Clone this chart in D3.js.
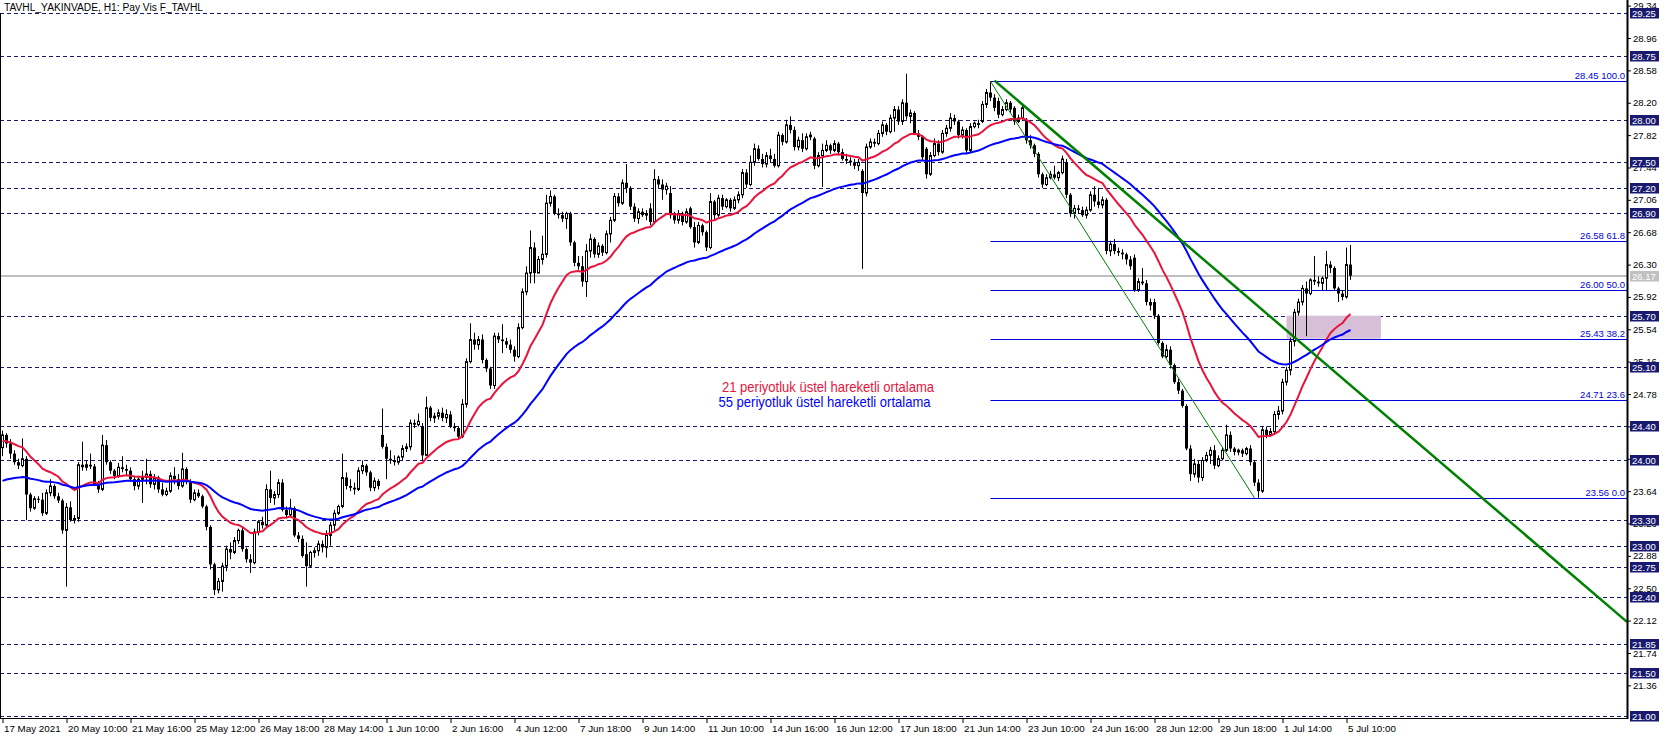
<!DOCTYPE html>
<html><head><meta charset="utf-8">
<script src="https://cdn.jsdelivr.net/npm/d3@7"></script>
<style>html,body{margin:0;padding:0;background:#fff;overflow:hidden}</style>
</head><body>
<svg id="c" width="1670" height="739"></svg>
<script>
const title = "TAVHL_YAKINVADE, H1:  Pay Vis F_TAVHL";
// hourly candles [open, high, low, close]
const ohlc = [
[24.15,24.35,24.05,24.30],[24.30,24.32,24.15,24.20],[24.20,24.25,24.02,24.08],[24.08,24.12,23.95,23.98],
[23.98,24.02,23.90,23.94],[23.94,24.26,23.92,24.02],[24.02,24.05,23.30,23.60],[23.60,23.62,23.40,23.44],
[23.44,23.58,23.42,23.55],[23.55,23.58,23.50,23.54],[23.54,23.62,23.35,23.38],[23.38,23.66,23.36,23.62],
[23.62,23.78,23.58,23.70],[23.70,23.72,23.55,23.58],[23.58,23.62,23.50,23.53],[23.53,23.55,23.14,23.18],
[23.18,23.50,22.52,23.45],[23.45,23.52,23.28,23.30],[23.30,23.36,23.26,23.32],[23.32,23.98,23.28,23.95],
[23.95,24.22,23.88,23.92],[23.92,24.00,23.88,23.95],[23.95,24.08,23.90,23.93],[23.93,23.96,23.70,23.72],
[23.72,23.76,23.62,23.66],[23.66,24.30,23.64,24.18],[24.18,24.24,23.95,23.98],[23.98,24.00,23.84,23.88],
[23.88,23.90,23.78,23.82],[23.82,23.97,23.80,23.92],[23.92,24.05,23.86,23.90],[23.90,23.95,23.83,23.88],
[23.88,23.92,23.75,23.78],[23.78,23.82,23.65,23.70],[23.70,23.82,23.66,23.78],[23.78,23.88,23.50,23.80],
[23.80,24.02,23.72,23.84],[23.84,23.88,23.68,23.72],[23.72,23.84,23.66,23.80],[23.80,23.82,23.62,23.66],
[23.66,23.74,23.58,23.60],[23.60,23.68,23.58,23.64],[23.64,23.86,23.62,23.82],[23.82,23.92,23.72,23.78],
[23.78,23.84,23.66,23.70],[23.70,24.09,23.68,23.90],[23.90,23.92,23.72,23.76],[23.76,23.78,23.50,23.54],
[23.54,23.66,23.52,23.62],[23.62,23.66,23.56,23.58],[23.58,23.60,23.44,23.46],[23.46,23.48,23.18,23.22],
[23.22,23.24,22.72,22.78],[22.78,22.80,22.42,22.48],[22.48,22.62,22.44,22.58],[22.58,22.80,22.46,22.76],
[22.76,23.00,22.70,22.96],[22.96,23.04,22.84,22.92],[22.92,23.10,22.90,23.06],[23.06,23.20,23.02,23.18],
[23.18,23.22,22.93,22.96],[22.96,22.98,22.80,22.84],[22.84,22.90,22.68,22.80],[22.80,23.20,22.78,23.16],
[23.16,23.30,23.12,23.28],[23.28,23.34,23.20,23.24],[23.24,23.72,23.22,23.66],[23.66,23.88,23.50,23.56],
[23.56,23.64,23.48,23.60],[23.60,23.78,23.56,23.74],[23.74,23.78,23.40,23.42],[23.42,23.46,23.32,23.36],
[23.36,23.55,23.34,23.44],[23.44,23.46,23.10,23.12],[23.12,23.16,23.04,23.08],[23.08,23.12,22.86,22.88],
[22.90,23.04,22.52,22.76],[22.76,22.94,22.74,22.92],[22.92,22.98,22.86,22.94],[22.94,23.06,22.88,23.02],
[23.02,23.06,22.92,22.98],[22.98,23.18,22.86,23.12],[23.12,23.28,23.00,23.24],[23.24,23.42,23.18,23.38],
[23.38,23.48,23.36,23.46],[23.46,24.08,23.44,23.80],[23.80,23.86,23.66,23.70],[23.70,23.78,23.64,23.68],
[23.68,23.74,23.60,23.66],[23.66,23.92,23.64,23.88],[23.88,24.00,23.84,23.94],[23.94,23.96,23.82,23.86],
[23.86,23.88,23.64,23.68],[23.68,23.80,23.64,23.76],[23.76,23.78,23.66,23.70],[24.30,24.61,24.14,24.16],
[24.16,24.20,23.78,24.02],[24.02,24.12,23.96,24.00],[24.00,24.06,23.94,23.98],[23.98,24.06,23.95,24.04],
[24.04,24.18,24.00,24.14],[24.14,24.20,24.10,24.16],[24.16,24.48,24.12,24.44],[24.44,24.48,24.38,24.42],
[24.42,24.55,24.40,24.46],[24.40,24.44,24.00,24.06],[24.06,24.75,24.06,24.62],[24.62,24.64,24.46,24.50],
[24.50,24.56,24.44,24.52],[24.52,24.60,24.48,24.56],[24.56,24.62,24.46,24.50],[24.50,24.60,24.44,24.54],
[24.54,24.58,24.38,24.40],[24.40,24.44,24.34,24.38],[24.38,24.40,24.26,24.28],[24.28,24.72,24.26,24.66],
[24.66,25.20,24.62,25.16],[25.16,25.61,25.14,25.42],[25.42,25.50,25.30,25.36],[25.36,25.46,25.30,25.42],
[25.42,25.48,25.14,25.18],[25.18,25.20,25.04,25.08],[25.08,25.10,24.84,24.88],[24.88,25.50,24.84,25.46],
[25.46,25.50,25.38,25.42],[25.42,25.60,25.26,25.40],[25.40,25.44,25.32,25.36],[25.36,25.42,25.26,25.30],
[25.30,25.34,25.16,25.22],[25.22,25.61,25.20,25.56],[25.56,26.02,25.54,25.98],[25.98,26.28,25.94,26.20],
[26.20,26.70,26.08,26.50],[26.50,26.56,26.08,26.20],[26.20,26.40,26.20,26.36],[26.36,26.64,26.30,26.42],
[26.42,27.12,26.38,27.02],[27.02,27.17,26.98,27.10],[27.10,27.12,26.88,26.90],[26.90,26.96,26.84,26.88],
[26.88,26.92,26.80,26.84],[26.84,26.92,26.72,26.90],[26.90,26.92,26.52,26.56],[26.56,26.58,26.28,26.32],
[26.32,26.40,26.24,26.28],[26.28,26.40,26.04,26.10],[26.10,26.54,25.92,26.46],[26.46,26.66,26.38,26.60],
[26.60,26.62,26.38,26.42],[26.42,26.56,26.38,26.52],[26.52,26.54,26.40,26.44],[26.44,26.70,26.42,26.66],
[26.66,26.86,26.56,26.82],[26.82,27.14,26.80,27.10],[27.10,27.14,26.98,27.02],[27.02,27.30,27.00,27.26],
[27.26,27.48,27.14,27.20],[27.20,27.22,26.94,26.98],[26.98,27.02,26.80,26.84],[26.84,26.96,26.78,26.92],
[26.92,26.96,26.86,26.88],[26.88,26.94,26.82,26.90],[26.96,27.02,26.76,26.80],[26.80,27.42,26.78,27.30],
[27.30,27.34,27.20,27.24],[27.24,27.30,27.06,27.18],[27.18,27.26,27.12,27.22],[27.14,27.22,26.84,26.88],
[26.88,26.92,26.78,26.82],[26.82,26.94,26.78,26.90],[26.90,26.92,26.76,26.80],[26.80,26.96,26.78,26.92],
[26.96,26.98,26.72,26.74],[26.74,26.80,26.50,26.56],[26.56,26.80,26.54,26.76],[26.76,26.78,26.64,26.68],
[26.68,26.70,26.46,26.50],[26.50,27.14,26.48,27.04],[27.04,27.06,26.82,26.88],[26.88,27.12,26.86,27.08],
[27.08,27.12,26.94,26.98],[26.98,27.08,26.96,27.06],[27.06,27.08,26.92,26.96],[26.96,27.10,26.94,27.06],
[27.06,27.16,27.02,27.12],[27.12,27.42,27.08,27.38],[27.38,27.42,27.20,27.24],[27.24,27.58,27.22,27.50],
[27.50,27.72,27.46,27.66],[27.66,27.70,27.52,27.54],[27.54,27.60,27.44,27.48],[27.48,27.62,27.44,27.58],
[27.58,27.66,27.50,27.54],[27.54,27.60,27.44,27.46],[27.46,27.86,27.44,27.82],[27.82,27.84,27.70,27.74],
[27.74,28.00,27.72,27.94],[27.94,28.04,27.84,27.88],[27.88,27.92,27.64,27.68],[27.68,27.80,27.64,27.76],
[27.76,27.84,27.62,27.66],[27.66,27.84,27.64,27.80],[27.80,27.86,27.76,27.82],[27.78,27.80,27.42,27.46],
[27.46,27.62,27.44,27.58],[27.58,27.72,27.21,27.64],[27.64,27.76,27.62,27.70],[27.70,27.72,27.60,27.64],
[27.64,27.76,27.62,27.72],[27.72,27.74,27.58,27.62],[27.62,27.66,27.52,27.54],[27.54,27.60,27.48,27.52],
[27.52,27.56,27.46,27.50],[27.50,27.54,27.42,27.46],[27.46,27.54,27.40,27.50],[27.40,27.42,26.25,27.14],
[27.14,27.72,27.10,27.68],[27.68,27.78,27.66,27.74],[27.74,27.78,27.68,27.72],[27.72,27.88,27.70,27.84],
[27.84,27.98,27.80,27.94],[27.94,27.96,27.82,27.86],[27.86,28.06,27.84,28.02],[28.02,28.16,27.86,28.12],
[28.12,28.16,27.94,27.98],[27.98,28.24,27.94,28.20],[28.20,28.54,28.00,28.04],[28.04,28.12,27.96,28.08],
[28.08,28.10,27.82,27.84],[27.84,27.88,27.76,27.80],[27.80,27.82,27.52,27.56],[27.66,27.68,27.31,27.36],
[27.36,27.62,27.34,27.58],[27.58,27.78,27.56,27.72],[27.72,27.76,27.58,27.62],[27.62,27.88,27.60,27.84],
[27.84,27.94,27.80,27.90],[27.90,28.08,27.86,28.02],[28.02,28.06,27.94,27.98],[27.98,28.00,27.78,27.82],
[27.82,27.92,27.78,27.88],[27.88,27.90,27.60,27.64],[27.64,27.96,27.62,27.92],[27.92,27.98,27.90,27.96],
[27.96,28.00,27.90,27.94],[27.98,28.22,27.96,28.18],[28.18,28.36,28.14,28.32],[28.32,28.45,28.22,28.26],
[28.26,28.30,28.10,28.14],[28.22,28.26,28.02,28.06],[28.06,28.16,28.04,28.12],[28.12,28.24,28.10,28.20],
[28.20,28.22,28.08,28.12],[28.14,28.16,27.94,27.98],[27.98,28.06,27.96,28.02],[28.02,28.18,28.00,28.14],
[28.00,28.02,27.72,27.76],[27.76,27.82,27.66,27.70],[27.70,27.72,27.56,27.60],[27.60,27.62,27.32,27.36],
[27.36,27.38,27.20,27.24],[27.24,27.36,27.22,27.32],[27.32,27.40,27.30,27.36],[27.36,27.46,27.30,27.32],
[27.32,27.40,27.28,27.38],[27.38,27.58,27.36,27.54],[27.50,27.54,27.08,27.12],[27.12,27.14,26.86,26.90],
[26.90,27.00,26.84,26.96],[26.96,27.00,26.90,26.94],[26.94,26.98,26.86,26.88],[26.88,26.98,26.84,26.94],
[26.94,27.16,26.92,27.12],[27.12,27.22,26.98,27.04],[27.04,27.20,26.96,27.00],[27.00,27.10,26.96,27.06],
[27.06,27.08,26.42,26.46],[26.46,26.58,26.40,26.54],[26.54,26.60,26.42,26.46],[26.46,26.50,26.40,26.44],
[26.44,26.48,26.36,26.42],[26.42,26.44,26.30,26.36],[26.36,26.40,26.24,26.28],[26.38,26.42,25.98,26.00],
[26.00,26.14,25.98,26.10],[26.10,26.26,26.06,26.08],[26.08,26.12,25.82,25.86],[25.86,25.90,25.76,25.82],
[25.86,25.90,25.66,25.70],[25.70,25.72,25.36,25.38],[25.38,25.40,25.20,25.22],[25.22,25.36,25.20,25.30],
[25.30,25.34,25.08,25.12],[25.12,25.14,24.90,24.92],[24.92,24.96,24.78,24.82],[24.82,24.84,24.62,24.64],
[24.64,24.66,24.12,24.14],[24.14,24.18,23.76,23.84],[23.84,24.02,23.80,23.96],[23.96,24.00,23.74,23.80],
[23.80,24.04,23.76,24.00],[24.00,24.10,23.98,24.06],[24.06,24.16,23.96,24.12],[24.12,24.18,23.90,23.94],
[23.94,24.06,23.92,24.02],[24.02,24.16,24.00,24.12],[24.12,24.42,24.10,24.30],[24.30,24.34,24.10,24.14],
[24.14,24.16,24.06,24.10],[24.10,24.14,24.06,24.12],[24.12,24.14,24.04,24.08],[24.08,24.16,24.06,24.14],
[24.14,24.18,23.94,23.98],[23.98,24.00,23.70,23.74],[23.74,23.78,23.56,23.64],[23.64,24.40,23.62,24.36],
[24.36,24.40,24.26,24.30],[24.30,24.38,24.28,24.34],[24.34,24.58,24.30,24.54],[24.54,24.64,24.48,24.58],
[24.58,24.96,24.54,24.92],[24.92,25.10,24.88,25.06],[25.06,25.44,25.00,25.40],[25.40,25.78,25.34,25.74],
[25.74,25.90,25.70,25.86],[25.86,26.06,25.82,26.02],[26.02,26.10,25.46,25.96],[25.96,26.14,25.94,26.12],
[26.12,26.40,26.06,26.10],[26.10,26.16,26.04,26.08],[26.08,26.16,26.00,26.14],[26.14,26.46,26.00,26.30],
[26.30,26.34,26.20,26.26],[26.26,26.28,26.00,26.02],[26.02,26.04,25.86,25.96],[25.96,26.00,25.88,25.92],
[25.92,26.50,25.90,26.30],[26.30,26.53,26.12,26.17]
];
const timeLabels = ["17 May 2021","20 May 10:00","21 May 16:00","25 May 12:00","26 May 18:00","28 May 14:00",
  "1 Jun 10:00","2 Jun 16:00","4 Jun 12:00","7 Jun 18:00","9 Jun 14:00","11 Jun 10:00","14 Jun 16:00",
  "16 Jun 12:00","17 Jun 18:00","21 Jun 14:00","23 Jun 10:00","24 Jun 16:00","28 Jun 12:00","29 Jun 18:00",
  "1 Jul 14:00","5 Jul 10:00"];
const timeTickBars = [0,16,32,48,64,80,96,112,128,144,160,176,192,208,224,240,256,272,288,304,320,336];
const priceTicks = [29.34,28.96,28.58,28.20,27.82,27.44,27.06,26.68,26.30,25.92,25.54,25.16,24.78,24.40,24.02,23.64,23.26,22.88,22.50,22.12,21.74,21.36];
const levels = [29.25,28.75,28.00,27.50,27.20,26.90,25.70,25.10,24.40,24.00,23.30,23.00,22.75,22.40,21.85,21.50,21.00];
const fibValues = [28.45,26.58,26.00,25.43,24.71,23.56];
const fibPercents = ["100.0","61.8","50.0","38.2","23.6","0.0"];
const fibStartBar = 247;
const lastPrice = 26.17;
const trendMain = [[248,28.46],[300,26.37]];
const trendThin = [[247,28.45],[313,23.56]];
const zoneBars = [321,344.6];
const zonePrices = [25.70,25.43];
const emaPeriods = [21,55];
const emaSeeds = [24.22,23.74];
const emaColors = ["#e8143c","#0000ff"];
const notes = ["21 periyotluk üstel hareketli ortalama","55 periyotluk üstel hareketli ortalama"];

const W = 1670, H = 739, R = 1627, B = 718;
const svg = d3.select("#c");
const x = d3.scaleLinear().domain([0, 406.125]).range([2.5, R]);
const y = d3.scaleLinear().domain([21, 29.25]).range([716, 13.3]);
const NAVY = "#191970";
const F = "'Liberation Sans', Arial, sans-serif";

// price levels (dashed)
svg.append("g").selectAll("line").data(levels).join("line")
  .attr("x1",0).attr("x2",R).attr("y1",d=>Math.round(y(d))+0.5).attr("y2",d=>Math.round(y(d))+0.5)
  .attr("stroke",NAVY).attr("stroke-width",1).attr("stroke-dasharray","4,3");
// current price line
svg.append("line").attr("x1",0).attr("x2",R).attr("y1",Math.round(y(lastPrice))).attr("y2",Math.round(y(lastPrice)))
  .attr("stroke","#c0c0c0").attr("stroke-width",2);
// zone rectangle
svg.append("rect").attr("x",x(zoneBars[0])).attr("width",x(zoneBars[1])-x(zoneBars[0]))
  .attr("y",y(zonePrices[0])).attr("height",y(zonePrices[1])-y(zonePrices[0]))
  .attr("fill","#d8bfd8");
// fib lines
const fg = svg.append("g");
fg.selectAll("line").data(fibValues).join("line")
  .attr("x1",x(fibStartBar)).attr("x2",R).attr("y1",d=>Math.round(y(d))+0.5).attr("y2",d=>Math.round(y(d))+0.5)
  .attr("stroke","#0000dd").attr("stroke-width",1);
fg.selectAll("text").data(fibValues).join("text")
  .attr("x",R-2).attr("y",d=>Math.round(y(d))-2).attr("text-anchor","end")
  .attr("font-family",F).attr("font-size",9.5).attr("fill","#0000dd")
  .text((d,i)=>d.toFixed(2)+" "+fibPercents[i]);

// candles
const cg = svg.append("g");
cg.selectAll("line").data(ohlc).join("line")
  .attr("x1",(d,i)=>x(i)).attr("x2",(d,i)=>x(i))
  .attr("y1",d=>y(d[1])).attr("y2",d=>y(d[2]))
  .attr("stroke","#000").attr("stroke-width",1);
cg.selectAll("rect").data(ohlc).join("rect")
  .attr("x",(d,i)=> d[3]>=d[0] ? x(i)-1 : x(i)-1.5)
  .attr("width",d=> d[3]>=d[0] ? 2 : 3)
  .attr("y",d=>y(Math.max(d[0],d[3])))
  .attr("height",d=>Math.max(1, Math.abs(y(d[0])-y(d[3]))))
  .attr("fill",d=> d[3]>=d[0] ? "#fff" : "#000")
  .attr("stroke",d=> d[3]>=d[0] ? "#000" : "none").attr("stroke-width",1);

// EMAs
const closes = ohlc.map(d=>d[3]);
emaPeriods.forEach((p,k)=>{
  const a = 2/(p+1); let e = emaSeeds[k];
  const vals = closes.map(c => (e = e + a*(c-e)));
  svg.append("path").datum(vals)
    .attr("d", d3.line().x((d,i)=>x(i)).y(d=>y(d)))
    .attr("fill","none").attr("stroke",emaColors[k]).attr("stroke-width",2);
});

// trend lines
const slope = (trendMain[1][1]-trendMain[0][1])/(trendMain[1][0]-trendMain[0][0]);
const endBar = x.invert(R);
svg.append("line").attr("x1",x(trendMain[0][0])).attr("y1",y(trendMain[0][1]))
  .attr("x2",R).attr("y2",y(trendMain[0][1]+slope*(endBar-trendMain[0][0])))
  .attr("stroke","#008000").attr("stroke-width",2.5);
svg.append("line").attr("x1",x(trendThin[0][0])).attr("y1",y(trendThin[0][1]))
  .attr("x2",x(trendThin[1][0])).attr("y2",y(trendThin[1][1]))
  .attr("stroke","#008000").attr("stroke-width",1);

// notes
const nx = [722, 718.5], ny = [392, 407];
notes.forEach((t,k)=>{
  svg.append("text").attr("x",nx[k]).attr("y",ny[k]).attr("font-family","'Liberation Sans Narrow','Liberation Sans',Arial,sans-serif")
    .attr("font-size",15).attr("fill",emaColors[k]).attr("textLength",212).attr("lengthAdjust","spacingAndGlyphs").text(t);
});

// title
svg.append("rect").attr("x",0).attr("y",0).attr("width",206).attr("height",13).attr("fill","#fff");
svg.append("text").attr("x",4).attr("y",11).attr("font-family",F).attr("font-size",10)
  .attr("textLength",199).attr("lengthAdjust","spacingAndGlyphs").attr("fill","#000").text(title);

// frame & axes
svg.append("rect").attr("x",R).attr("y",0).attr("width",W-R).attr("height",H).attr("fill","#fff");
svg.append("rect").attr("x",0).attr("y",B).attr("width",W).attr("height",H-B).attr("fill","#fff");
svg.append("line").attr("x1",0.5).attr("x2",0.5).attr("y1",13).attr("y2",B).attr("stroke","#000");

const ya = d3.axisRight(y).tickValues(priceTicks).tickSize(4).tickFormat(d3.format(".2f"));
const yg = svg.append("g").attr("transform",`translate(${R},0)`).call(ya);
yg.select(".domain").remove();
yg.selectAll("text").attr("font-family",F).attr("font-size",9.5).attr("x",6).attr("fill","#000");
yg.selectAll("line").attr("stroke","#000");
svg.append("line").attr("x1",R+0.5).attr("x2",R+0.5).attr("y1",0).attr("y2",B+1).attr("stroke","#000").attr("stroke-width",2);

const xa = d3.axisBottom(x).tickValues(timeTickBars).tickSize(5).tickFormat((d,i)=>timeLabels[i]);
const xg = svg.append("g").attr("transform",`translate(0,${B})`).call(xa);
xg.select(".domain").remove();
xg.selectAll("text").attr("font-family",F).attr("font-size",9.8).attr("text-anchor","start").attr("dx",1).attr("y",7).attr("fill","#000");
xg.selectAll("line").attr("stroke","#000");
svg.append("line").attr("x1",0).attr("x2",R+1).attr("y1",B+0.5).attr("y2",B+0.5).attr("stroke","#000");

// level boxes
const lb = svg.append("g");
levels.forEach(v=>{
  const yy = Math.round(y(v));
  lb.append("rect").attr("x",R+3).attr("y",yy-5).attr("width",29).attr("height",10.5).attr("fill",NAVY);
  lb.append("text").attr("x",R+5).attr("y",yy+4).attr("font-family",F).attr("font-size",9.5).attr("fill","#fff").text(v.toFixed(2));
});
{
  const yy = Math.round(y(lastPrice));
  lb.append("rect").attr("x",R+3).attr("y",yy-5).attr("width",29).attr("height",10.5).attr("fill","#c0c0c0");
  lb.append("text").attr("x",R+5).attr("y",yy+4).attr("font-family",F).attr("font-size",9.5).attr("fill","#fff").text(lastPrice.toFixed(2));
}
</script>
</body></html>
